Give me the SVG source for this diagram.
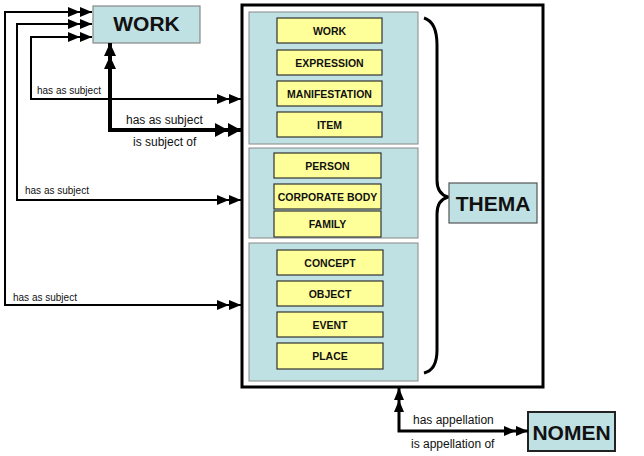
<svg xmlns="http://www.w3.org/2000/svg" width="644" height="456" viewBox="0 0 644 456">
<style>
text{font-family:"Liberation Sans",Arial,sans-serif;fill:#111}
.ent{fill:#ffff99;stroke:#333;stroke-width:1.2}
.et{font-size:10.5px;font-weight:bold;text-anchor:middle}
.sec{fill:#bfe1e4;stroke:#888;stroke-width:1}
.big{font-size:21px;font-weight:bold;text-anchor:middle}
.lbl{font-size:10px}
.lbl2{font-size:12px}
.thin{fill:none;stroke:#000;stroke-width:2}
.thick{fill:none;stroke:#000;stroke-width:4}
</style>
<defs>
<marker id="a2" markerUnits="userSpaceOnUse" viewBox="0 -6 24 12" refX="24" refY="0" markerWidth="24" markerHeight="12" orient="auto-start-reverse">
<path d="M0,-5 L12,0 L0,5 Z M12,-5 L24,0 L12,5 Z" fill="#000"/>
</marker>
<marker id="a3" markerUnits="userSpaceOnUse" viewBox="0 -8 26 16" refX="26" refY="0" markerWidth="26" markerHeight="16" orient="auto-start-reverse">
<path d="M0,-7 L13,0 L0,7 Z M13,-7 L26,0 L13,7 Z" fill="#000"/>
</marker>
<marker id="a4" markerUnits="userSpaceOnUse" viewBox="0 -7 26 14" refX="26" refY="0" markerWidth="26" markerHeight="14" orient="auto-start-reverse">
<path d="M0,-6 L13,0 L0,6 Z M13,-6 L26,0 L13,6 Z" fill="#000"/>
</marker>
</defs>
<rect width="644" height="456" fill="#fff"/>

<g id="thema-frame">
<rect x="242" y="5" width="301" height="382" fill="#fff" stroke="#000" stroke-width="3"/>
</g>

<g id="group1">
<rect class="sec" x="249" y="12" width="169" height="132"/>
<g id="e-work"><rect class="ent" x="277" y="18" width="105" height="25"/><text class="et" x="329.5" y="34.5">WORK</text></g>
<g id="e-expression"><rect class="ent" x="277" y="50" width="105" height="25"/><text class="et" x="329.5" y="66.5">EXPRESSION</text></g>
<g id="e-manifestation"><rect class="ent" x="277" y="81" width="105" height="25"/><text class="et" x="329.5" y="97.5">MANIFESTATION</text></g>
<g id="e-item"><rect class="ent" x="277" y="112" width="105" height="25"/><text class="et" x="329.5" y="128.5">ITEM</text></g>
</g>

<g id="group2">
<rect class="sec" x="249" y="148" width="169" height="90"/>
<g id="e-person"><rect class="ent" x="274" y="153" width="107" height="25"/><text class="et" x="327.5" y="169.5">PERSON</text></g>
<g id="e-corporate"><rect class="ent" x="274" y="184" width="107" height="25"/><text class="et" x="327.5" y="200.5">CORPORATE BODY</text></g>
<g id="e-family"><rect class="ent" x="274" y="211" width="107" height="26"/><text class="et" x="327.5" y="228">FAMILY</text></g>
</g>

<g id="group3">
<rect class="sec" x="249" y="243" width="169" height="138"/>
<g id="e-concept"><rect class="ent" x="277" y="250" width="106" height="25"/><text class="et" x="330" y="266.5">CONCEPT</text></g>
<g id="e-object"><rect class="ent" x="277" y="281" width="106" height="25"/><text class="et" x="330" y="297.5">OBJECT</text></g>
<g id="e-event"><rect class="ent" x="277" y="312" width="106" height="25"/><text class="et" x="330" y="328.5">EVENT</text></g>
<g id="e-place"><rect class="ent" x="277" y="343" width="106" height="26"/><text class="et" x="330" y="360">PLACE</text></g>
</g>

<g id="brace">
<path d="M424,18 Q437,22 437,45 L437,180 Q437,194 448,197 Q437,200 437,214 L437,350 Q437,370 424,373" fill="none" stroke="#000" stroke-width="3"/>
</g>

<g id="thema">
<rect x="449" y="183" width="88" height="40" fill="#bfe1e4" stroke="#555" stroke-width="1.2"/>
<text class="big" x="493" y="211">THEMA</text>
</g>

<g id="work">
<rect x="93" y="6" width="107" height="37" fill="#bfe1e4" stroke="#888" stroke-width="1.2"/>
<text class="big" x="146.5" y="31">WORK</text>
</g>

<g id="nomen">
<rect x="528" y="412" width="87" height="39" fill="#bfe1e4" stroke="#222" stroke-width="2"/>
<text class="big" x="571.5" y="440">NOMEN</text>
</g>

<g id="connectors">
<path class="thin" d="M241,305 L5,305 L5,12 L92,12" marker-start="url(#a2)" marker-end="url(#a2)"/>
<path class="thin" d="M241,200 L17,200 L17,24 L92,24" marker-start="url(#a2)" marker-end="url(#a2)"/>
<path class="thin" d="M241,99 L31,99 L31,37 L92,37" marker-start="url(#a2)" marker-end="url(#a2)"/>
<path class="thick" d="M110,43 L110,130 L241,130" marker-start="url(#a4)" marker-end="url(#a3)"/>
<path class="thick" style="stroke-width:3" d="M399,388 L399,431 L528,431" marker-start="url(#a2)" marker-end="url(#a2)"/>
<text class="lbl" x="37" y="94">has as subject</text>
<text class="lbl2" x="126" y="124">has as subject</text>
<text class="lbl2" x="133" y="146">is subject of</text>
<text class="lbl" x="25" y="194">has as subject</text>
<text class="lbl" x="13" y="301">has as subject</text>
<text class="lbl2" x="413" y="424">has appellation</text>
<text class="lbl2" x="411" y="448">is appellation of</text>
</g>
</svg>
